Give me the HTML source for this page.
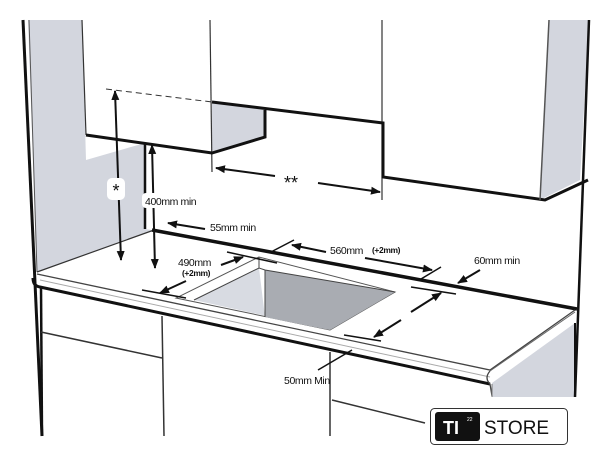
<!DOCTYPE html>
<html><head><meta charset="utf-8"><style>
html,body{margin:0;padding:0;background:#fff;}
svg{display:block;font-family:"Liberation Sans",sans-serif;}
</style></head><body>
<svg width="612" height="456" viewBox="0 0 612 456" xmlns="http://www.w3.org/2000/svg">
<defs>
<marker id="a" viewBox="0 0 10 10" refX="9" refY="5" markerWidth="5" markerHeight="5" orient="auto-start-reverse"><path d="M0,1 L10,5 L0,9 z" fill="#111"/></marker>
</defs>
<!-- grey walls -->
<polygon points="28,20 82,20 86,160 145,143 145,229 152,230 37,272" fill="#d3d6de"/>
<polygon points="549,20 589,20 580,180 540,200" fill="#d3d6de"/>
<polygon points="212,102 265,110 265,137 212,153" fill="#d3d6de"/>
<polygon points="492,383 575,323 575,397 492,397" fill="#d3d6de"/>
<!-- left wall lines -->
<line x1="23" y1="20" x2="42" y2="436" stroke="#111" stroke-width="3"/>
<line x1="29" y1="20" x2="37" y2="272" stroke="#555" stroke-width="1"/>
<line x1="82" y1="20" x2="86" y2="135" stroke="#333" stroke-width="1.2"/>
<!-- upper cabinets -->
<line x1="210" y1="20" x2="212" y2="172" stroke="#333" stroke-width="1.2"/>
<line x1="382" y1="20" x2="382" y2="200" stroke="#333" stroke-width="1.2"/>
<polyline points="86,135 212,153 265,137 265,110" fill="none" stroke="#111" stroke-width="3"/>
<polyline points="212,102 383,123 383,177 545,200 588,180" fill="none" stroke="#111" stroke-width="3"/>
<line x1="549" y1="20" x2="540" y2="200" stroke="#555" stroke-width="1.5"/>
<line x1="589" y1="20" x2="575" y2="397" stroke="#111" stroke-width="2.5"/>
<line x1="106" y1="89" x2="212" y2="102" stroke="#333" stroke-width="1" stroke-dasharray="6,4"/>
<!-- wall corner -->
<line x1="145" y1="143" x2="145" y2="229" stroke="#111" stroke-width="2.5"/>
<!-- countertop -->
<polygon points="37,273 154,230 577,308 575,312 490,371" fill="#fff"/>
<line x1="37" y1="272" x2="154" y2="230" stroke="#333" stroke-width="1.2"/>
<line x1="152" y1="230" x2="577" y2="309" stroke="#111" stroke-width="3.5"/>
<path d="M37,274 L490,370 L575,310" fill="none" stroke="#444" stroke-width="1.3"/>
<path d="M33,278 Q33,286 40,287 L490,384" fill="none" stroke="#111" stroke-width="3"/>
<line x1="40" y1="280" x2="490" y2="377" stroke="#aaa" stroke-width="1"/>
<path d="M490,371 Q484,378 490,384 L492,396" fill="none" stroke="#444" stroke-width="1.3"/>
<line x1="490" y1="371" x2="575" y2="312" stroke="#666" stroke-width="1"/>
<!-- hole -->
<polygon points="259,257 176,298 330,330 395,292" fill="#fff" stroke="#555" stroke-width="1"/>
<polygon points="194,300 259,268 265,317 330,330" fill="#d8dbe2"/>
<polygon points="265,270 395,292 330,330 265,317" fill="#a9acb2"/>
<polyline points="194,300 259,268 265,270 395,292" fill="none" stroke="#444" stroke-width="1"/>
<line x1="265" y1="270" x2="265" y2="317" stroke="#444" stroke-width="1"/>
<line x1="259" y1="257" x2="259" y2="268" stroke="#444" stroke-width="1"/>
<!-- lower cabinets -->
<line x1="41" y1="287" x2="42" y2="436" stroke="#111" stroke-width="2.5"/>
<line x1="162" y1="316" x2="164" y2="436" stroke="#333" stroke-width="1.5"/>
<line x1="330" y1="352" x2="330" y2="436" stroke="#333" stroke-width="1.5"/>
<line x1="41" y1="332" x2="162" y2="358" stroke="#333" stroke-width="1.5"/>
<line x1="332" y1="400" x2="425" y2="423" stroke="#333" stroke-width="1.5"/>
<line x1="575" y1="323" x2="575" y2="397" stroke="#111" stroke-width="2"/>
<line x1="492" y1="384" x2="492" y2="397" stroke="#777" stroke-width="1"/>
<!-- dimensions -->
<g stroke="#111" stroke-width="2" fill="none">
<line x1="115" y1="91" x2="121" y2="260" marker-start="url(#a)" marker-end="url(#a)"/>
<line x1="152" y1="145" x2="155" y2="268" marker-start="url(#a)" marker-end="url(#a)"/>
<line x1="275" y1="176" x2="216" y2="168" marker-end="url(#a)"/>
<line x1="318" y1="183" x2="380" y2="192" marker-end="url(#a)"/>
<line x1="205" y1="229" x2="168" y2="223" marker-end="url(#a)"/>
<line x1="326" y1="252" x2="292" y2="245" marker-end="url(#a)"/>
<line x1="365" y1="258" x2="432" y2="270" marker-end="url(#a)"/>
<line x1="269" y1="253" x2="294" y2="240" stroke-width="1.5"/>
<line x1="421" y1="279" x2="441" y2="267" stroke-width="1.5"/>
<line x1="221" y1="265" x2="243" y2="257" marker-end="url(#a)"/>
<line x1="186" y1="281" x2="160" y2="293" marker-end="url(#a)"/>
<line x1="227" y1="252" x2="277" y2="263" stroke-width="1.5"/>
<line x1="142" y1="290" x2="186" y2="298" stroke-width="1.5"/>
<line x1="411" y1="287" x2="456" y2="294" stroke-width="1.5"/>
<line x1="344" y1="335" x2="381" y2="341" stroke-width="1.5"/>
<line x1="411" y1="312" x2="441" y2="293" marker-end="url(#a)"/>
<line x1="401" y1="320" x2="374" y2="337" marker-end="url(#a)"/>
<line x1="480" y1="270" x2="458" y2="283" marker-end="url(#a)"/>
<line x1="318" y1="370" x2="352" y2="350" stroke-width="1.5"/>
</g>
<rect x="107" y="178" width="18" height="22" rx="5" fill="#fff"/>
<text x="116" y="197" font-size="18" text-anchor="middle" fill="#111">*</text>
<text x="284" y="189" font-size="18" fill="#111">**</text>
<rect x="142" y="193" width="64" height="15" rx="4" fill="#fff"/>
<g font-size="10.5" fill="#111" style="letter-spacing:-0.4px">
<text x="145" y="205">400mm min</text>
<text x="210" y="231">55mm min</text>
<text x="330" y="254">560mm</text>
<text x="372" y="253" font-size="8.5" font-weight="bold">(+2mm)</text>
<text x="178" y="266">490mm</text>
<text x="182" y="276" font-size="8.5" font-weight="bold">(+2mm)</text>
<text x="474" y="264">60mm min</text>
<text x="284" y="384">50mm Min</text>
</g>
<!-- logo -->
<rect x="430.5" y="408.5" width="137" height="36" rx="4" fill="#fff" stroke="#333" stroke-width="1"/>
<rect x="435" y="412" width="45" height="29" rx="3" fill="#111"/>
<text x="451" y="434" font-size="18" font-weight="bold" fill="#fff" text-anchor="middle">TI</text>
<text x="467" y="421" font-size="5" fill="#fff">22</text>
<text x="484" y="434" font-size="19" fill="#111">STORE</text>
</svg>
</body></html>
